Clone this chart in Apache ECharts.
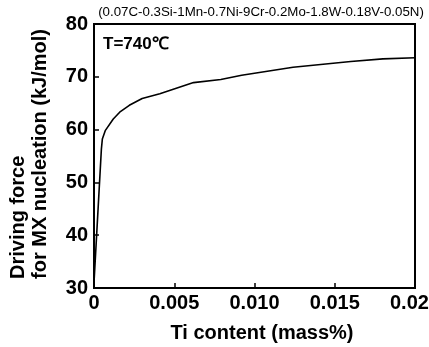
<!DOCTYPE html>
<html>
<head>
<meta charset="utf-8">
<script src="https://cdn.jsdelivr.net/npm/echarts@6/dist/echarts.min.js"></script>
<style>
  html, body { margin: 0; padding: 0; background: #fff; }
  #chart { width: 429px; height: 347px; }
</style>
</head>
<body>
<div id="chart"></div>
<script>
// Ti content (mass%) and driving force (kJ/mol)
const tiContent = [0, 0.0001, 0.0002, 0.00046, 0.00052, 0.0007, 0.0012, 0.0016, 0.0022, 0.003, 0.0041, 0.0062, 0.0079, 0.0092, 0.0124, 0.016, 0.018, 0.020];
const drivingForce = [31, 36.5, 42, 56.3, 58.2, 59.8, 62.0, 63.3, 64.6, 65.9, 66.8, 68.9, 69.5, 70.3, 71.8, 72.9, 73.4, 73.6];
const yTicks = [30, 40, 50, 60, 70, 80];
const xTicks = [0, 0.005, 0.010, 0.015, 0.020];

const font = "'Liberation Sans', Arial, sans-serif";
const chart = echarts.init(document.getElementById("chart"));

let option = {
  animation: false,
  grid: {
    left: 94,
    right: 14,
    top: 24,
    bottom: 59,
    outerBoundsMode: "none",
    containLabel: false,
    show: true,
    borderColor: "#000",
    borderWidth: 2,
  },
  xAxis: {
    type: "value",
    min: xTicks[0],
    max: xTicks[xTicks.length - 1],
    interval: 0.005,
    axisLine: { lineStyle: { color: "#000", width: 2 } },
    axisTick: { inside: true, length: 5, lineStyle: { color: "#000", width: 1.5 } },
    splitLine: { show: false },
    axisLabel: {
      color: "#000",
      fontFamily: font,
      fontWeight: "bold",
      fontSize: 20,
      margin: 5,
      hideOverlap: false,
      formatter: (v) => (v === 0 ? "0" : v.toFixed(3)),
    },
  },
  yAxis: {
    type: "value",
    min: yTicks[0],
    max: yTicks[yTicks.length - 1],
    interval: 10,
    axisLine: { lineStyle: { color: "#000", width: 2 } },
    axisTick: { inside: true, length: 5, lineStyle: { color: "#000", width: 1.5 } },
    splitLine: { show: false },
    axisLabel: {
      color: "#000",
      fontFamily: font,
      fontWeight: "bold",
      fontSize: 20,
      margin: 6,
    },
  },
  series: [
    {
      type: "line",
      data: tiContent.map((x, i) => [x, drivingForce[i]]),
      showSymbol: false,
      lineStyle: { color: "#000", width: 1.6 },
    },
  ],
  graphic: [
    {
      type: "text",
      x: 261,
      y: 12,
      style: {
        text: "(0.07C-0.3Si-1Mn-0.7Ni-9Cr-0.2Mo-1.8W-0.18V-0.05N)",
        align: "center",
        verticalAlign: "middle",
        font: "13.3px " + font,
        fill: "#000",
      },
    },
    {
      type: "text",
      x: 103,
      y: 44,
      style: {
        text: "T=740℃",
        verticalAlign: "middle",
        font: "bold 17px " + font,
        fill: "#000",
      },
    },
    {
      type: "text",
      x: 29,
      y: 279,
      rotation: Math.PI / 2,
      style: {
        text: "Driving force\nfor MX nucleation (kJ/mol)",
        align: "left",
        verticalAlign: "middle",
        lineHeight: 22,
        font: "bold 20px " + font,
        fill: "#000",
      },
    },
    {
      type: "text",
      x: 262,
      y: 333,
      style: {
        text: "Ti content (mass%)",
        align: "center",
        verticalAlign: "middle",
        font: "bold 20px " + font,
        fill: "#000",
      },
    },
  ],
};

option && chart.setOption(option);
</script>
</body>
</html>
